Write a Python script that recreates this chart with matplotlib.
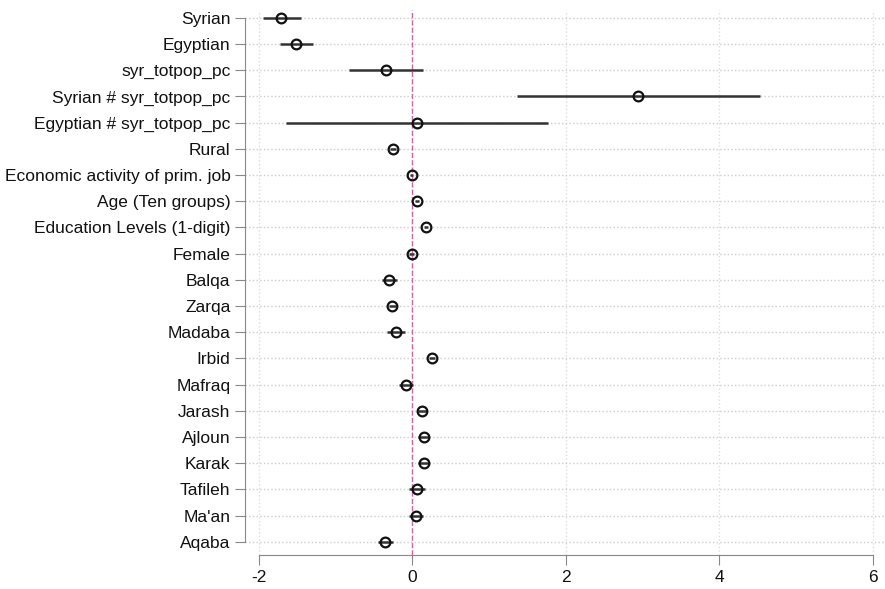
import matplotlib
matplotlib.use('Agg')
import matplotlib.pyplot as plt
import numpy as np

labels = ['Syrian', 'Egyptian', 'syr_totpop_pc', 'Syrian # syr_totpop_pc',
          'Egyptian # syr_totpop_pc', 'Rural', 'Economic activity of prim. job',
          'Age (Ten groups)', 'Education Levels (1-digit)', 'Female', 'Balqa',
          'Zarqa', 'Madaba', 'Irbid', 'Mafraq', 'Jarash', 'Ajloun', 'Karak',
          'Tafileh', "Ma'an", 'Aqaba']
coef = [-1.71, -1.51, -0.34, 2.94, 0.06, -0.25, -0.01, 0.06, 0.18, -0.01, -0.30,
        -0.26, -0.21, 0.26, -0.08, 0.13, 0.15, 0.15, 0.06, 0.05, -0.35]
ci_lo = [-1.95, -1.73, -0.83, 1.37, -1.64, -0.29, -0.03, 0.03, 0.15, -0.04, -0.39,
         -0.31, -0.33, 0.22, -0.17, 0.07, 0.08, 0.08, -0.04, -0.04, -0.45]
ci_hi = [-1.45, -1.29, 0.14, 4.53, 1.77, -0.21, 0.01, 0.09, 0.21, 0.02, -0.20,
         -0.21, -0.09, 0.30, 0.01, 0.19, 0.22, 0.22, 0.16, 0.14, -0.25]
xticks = [-2, 0, 2, 4, 6]

plt.rcParams['font.family'] = ['Liberation Sans', 'DejaVu Sans']

fig = plt.figure(figsize=(8.85, 5.89), dpi=100)
ax = fig.add_axes([245/885, 34/589, 640/885, 545/589])

y = np.arange(len(labels))
for xt in xticks:
    ax.axvline(xt, color='#dddddd', lw=1, ls=':', zorder=0)
for yy in y:
    ax.axhline(yy, color='#cccccc', lw=1, ls=':', zorder=0)
ax.axvline(0, color='#cc66aa', lw=1, ls='--', zorder=1)

ax.hlines(y, ci_lo, ci_hi, color='#333333', lw=1.8, zorder=2)
ax.plot(coef, y, 'o', mfc='none', mec='#111111', mew=1.6, ms=7, zorder=3)

ax.set_xlim(-2.18, 6.16)
ax.set_ylim(20.5, -0.3)
ax.set_xticks(xticks)
ax.set_xticklabels([str(t) for t in xticks])
ax.set_yticks(y)
ax.set_yticklabels(labels)

for s in ['top', 'right']:
    ax.spines[s].set_visible(False)
ax.spines['left'].set_bounds(0, 20)
ax.spines['bottom'].set_bounds(-2, 6)
ax.spines['left'].set_color('#888888')
ax.spines['bottom'].set_color('#888888')
ax.tick_params(axis='both', colors='#888888', length=7, labelcolor='#111111', labelsize=12.5)

plt.savefig('out.png', dpi=100)
